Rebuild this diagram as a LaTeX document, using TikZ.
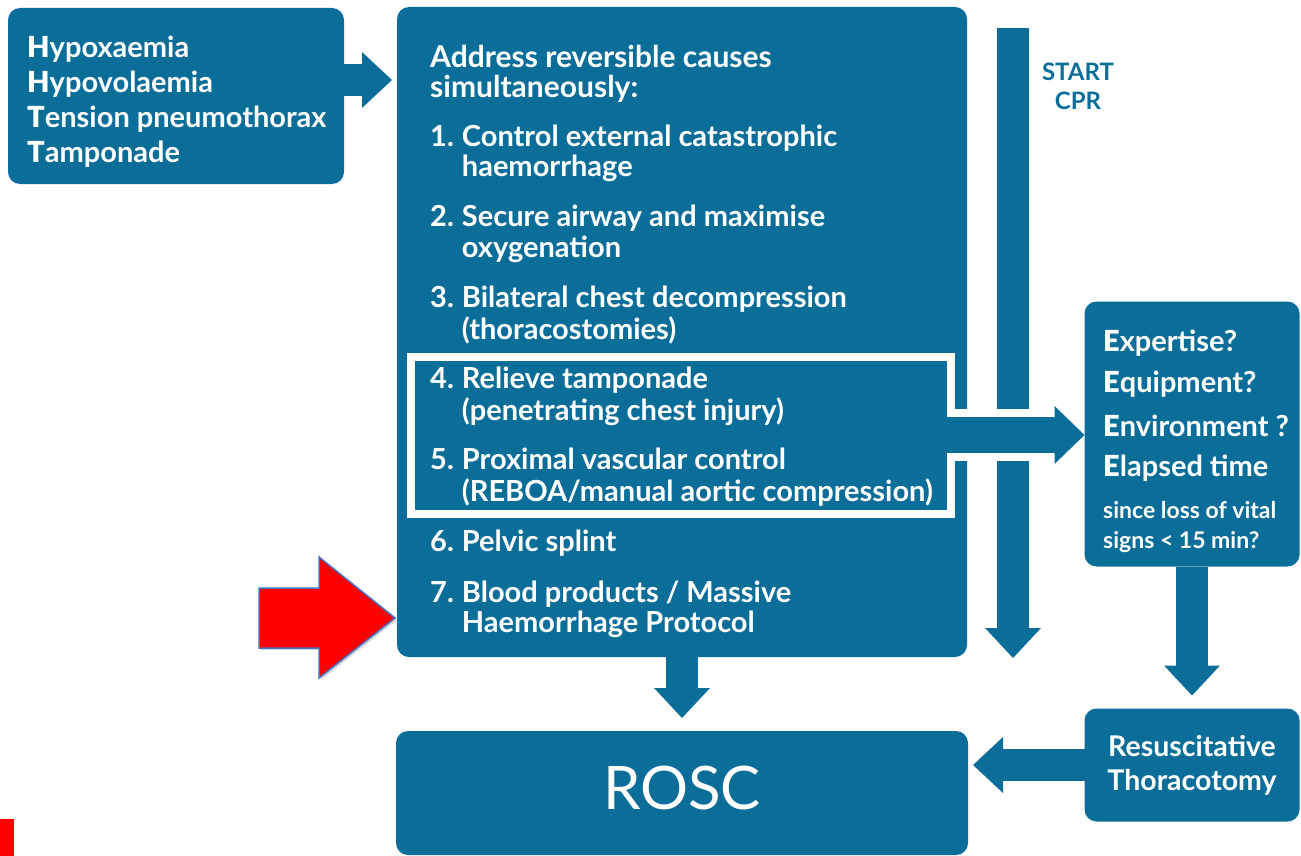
\documentclass[tikz,border=0pt]{standalone}
\usepackage{fontspec}
\setmainfont{Lato}
\newfontfamily\heavyfont{Lato Black}
\usetikzlibrary{arrows.meta,shadows}
\definecolor{boxblue}{RGB}{11,110,153}
\definecolor{edgeblue}{RGB}{68,114,196}
\newcommand\firstletter[1]{{\mdseries\heavyfont #1}}
\newcommand\numbered[2]{\begin{tabular}{@{}l@{\hspace{8pt}}l@{}}#1&#2\end{tabular}}
\tikzset{
  bluebox/.style={fill=boxblue, rounded corners=12pt, inner sep=0pt, outer sep=0pt},
  txt/.style={text=white, inner sep=0pt, align=left, font=\bfseries\fontsize{29}{30}\selectfont},
  fat/.style={draw=boxblue, line width=32pt, -{Triangle[width=56pt,length=30pt,line width=0pt]}},
}
\begin{document}
\begin{tikzpicture}[x=1pt,y=-1pt]
      \useasboundingbox[fill=white] (0,0) rectangle (1301,856);
      % boxes
      \node[bluebox, minimum width=336pt, minimum height=176pt] (hhtt) at (176,96) {};
      \node[bluebox, minimum width=570pt, minimum height=650pt] (main) at (682,332) {};
      \node[bluebox, minimum width=215pt, minimum height=265pt] (eee) at (1192,434) {};
      \node[bluebox, minimum width=215pt, minimum height=113pt] (rt) at (1192,765) {};
      \node[bluebox, minimum width=572pt, minimum height=124pt] (rosc) at (682,793) {};
      \node[draw=white, line width=8pt, fill=boxblue, minimum width=540pt, minimum height=157pt,
            inner sep=0pt, outer sep=0pt] (grp) at (681,435) {};
      % arrows
      \coordinate (cprtop) at (1013,28);
      \coordinate (cprend) at (1013,658);
      \draw[fat] (cprtop) -- (cprend);
      \draw[fat, shorten >=5pt] ([yshift=16pt]hhtt.east) -- ([yshift=16pt]hhtt.east -| main.west);
      \draw[fat, shorten >=13pt] (main.south) -- (rosc.north);
      \draw[fat, shorten >=13pt] (eee.south) -- (rt.north);
      \draw[fat, shorten >=5pt] (rt.west) -- (rt.west -| rosc.east);
      \draw[white, line width=52pt, shorten >=28pt] (grp.east) -- (grp.east -| eee.west);
      \draw[fat, line width=36pt, -{Triangle[width=58pt,length=30pt,line width=0pt]}]
            ([xshift=-6pt]grp.east) -- (grp.east -| eee.west);
      \filldraw[fill=red, draw=edgeblue, line width=1.5pt,
            drop shadow={opacity=0.3, shadow xshift=2pt, shadow yshift=-2pt}]
            (259,588) -- (319,588) -- (319,557) -- (395,618) -- (319,678) -- (319,648) -- (259,648) -- cycle;
      \fill[red] (0,819) rectangle (14,856);
      % texts
      \node[txt, anchor=west, font=\bfseries\fontsize{29}{35}\selectfont] (hhttlist) at (27,102)
            {\firstletter{H}ypoxaemia\\\firstletter{H}ypovolaemia\\\firstletter{T}ension pneumothorax\\\firstletter{T}amponade};
      \node[txt, anchor=west, font=\bfseries\fontsize{30}{30}\selectfont] (title) at (430,74) {Address reversible causes\\simultaneously:};
      \node[txt, anchor=west] (i1) at (430,155) {\numbered{1.}{Control external catastrophic\\&haemorrhage}};
      \node[txt, anchor=west] (i2) at (430,236) {\numbered{2.}{Secure airway and maximise\\&oxygenation}};
      \node[txt, anchor=west] (i3) at (430,317) {\numbered{3.}{Bilateral chest decompression\\&(thoracostomies)}};
      \node[txt, anchor=west] (i4) at (430,398) {\numbered{4.}{Relieve tamponade\\&(penetrating chest injury)}};
      \node[txt, anchor=west] (i5) at (430,479) {\numbered{5.}{Proximal vascular control\\&(REBOA/manual aortic compression)}};
      \node[txt, anchor=west] (i6) at (430,545) {\numbered{6.}{Pelvic splint}};
      \node[txt, anchor=west] (i7) at (430,611) {\numbered{7.}{Blood products / Massive\\&Haemorrhage Protocol}};
      \node[txt, text=boxblue, align=center, font=\bfseries\fontsize{24}{29}\selectfont] (cpr) at (1078,86) {START\\CPR};
      \node[txt, anchor=west] (e1) at (1103,343) {\firstletter{E}xpertise?};
      \node[txt, anchor=west] (e2) at (1103,384) {\firstletter{E}quipment?};
      \node[txt, anchor=west] (e3) at (1103,426) {\firstletter{E}nvironment ?};
      \node[txt, anchor=west] (e4) at (1103,468) {\firstletter{E}lapsed time};
      \node[txt, anchor=west, font=\bfseries\fontsize{23}{30}\selectfont] (e5) at (1103,527) {since loss of vital\\signs < 15 min?};
      \node[txt, align=center, font=\bfseries\fontsize{28.5}{34}\selectfont] (rtlabel) at (rt) {Resuscitative\\Thoracotomy};
      \node[txt, font=\fontsize{60}{60}\selectfont] (rosclabel) at (682,788) {ROSC};
    \end{tikzpicture}
\end{document}
